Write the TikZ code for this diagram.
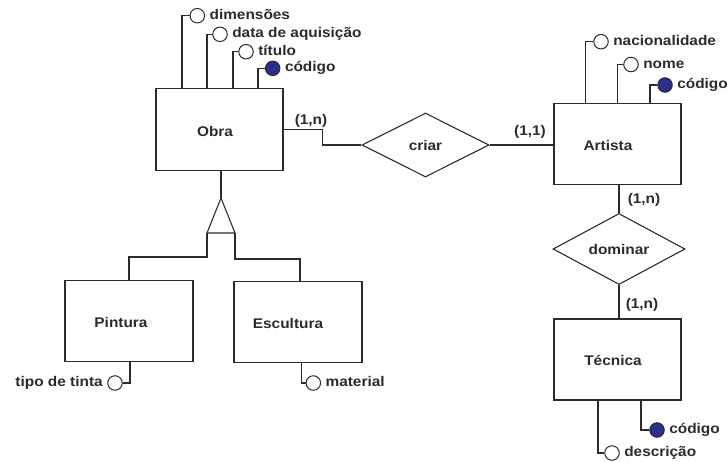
\documentclass[tikz,border=0pt]{standalone}
\usepackage{fontspec}
\setmainfont{Liberation Sans}[FakeStretch=1.1]
\usetikzlibrary{shapes.geometric,calc}
\definecolor{ink}{HTML}{2B2B2B}
\definecolor{keyblue}{HTML}{2A2F8F}
\begin{document}
\begin{tikzpicture}[x=1pt,y=-1pt,
  line width=1.1pt, draw=ink, text=ink,
  font=\fontsize{14}{16}\selectfont\bfseries,
  entity/.style={draw=ink, rectangle, inner sep=0pt, minimum width=127pt, minimum height=81pt},
  rel/.style={draw=ink, diamond, inner sep=0pt},
  attr/.style={draw=ink, circle, fill=white, inner sep=0pt, minimum size=14.5pt, line width=1pt},
  keyattr/.style={attr, fill=keyblue},
  lbl/.style={inner sep=0pt, text height=9.8pt, text depth=2.6pt, label distance=4pt},
  card/.style={inner sep=0pt},
  link/.style={draw=ink, line width=1.1pt}]
\useasboundingbox (0,0) rectangle (728,461);

% entities
\node[entity, minimum height=82pt, label={[xshift=-4.5pt,yshift=-2pt]center:Obra}] (obra) at (219.5,129.2) {};
\node[entity, label={[xshift=-9.5pt,yshift=-2pt]center:Artista}] (artista) at (617.5,143.7) {};
\node[entity, label={[xshift=-4.5pt,yshift=-0.5pt]center:Técnica}] (tecnica) at (617.5,359.5) {};
\node[entity, minimum width=128pt, label={[xshift=-8pt,yshift=-1.5pt]center:Pintura}] (pintura) at (129,321.2) {};
\node[entity, minimum width=128pt, label={[xshift=-10pt,yshift=-0.7pt]center:Escultura}] (escultura) at (298,322.3) {};

% relationships
\node[rel, minimum width=127pt, minimum height=64pt] (criar) at (425.5,145) {criar};
\node[rel, minimum width=132pt, minimum height=65pt] (dominar) at (619,249) {dominar};

% relationship links
\draw[link] (obra.east) -- ++(39,0) |- (criar.west);
\draw[link] (criar.east) -- (criar.east -| artista.west);
\draw[link] (dominar.north) -- (dominar.north |- artista.south);
\draw[link] (dominar.south) -- (dominar.south |- tecnica.north);

% cardinalities
\node[card] (c1) at (311,121) {(1,n)};
\node[card] (c2) at (530,132) {(1,1)};
\node[card] (c3) at (644,200) {(1,n)};
\node[card] (c4) at (642,305) {(1,n)};

% generalization of Obra
\coordinate (isaT) at (221,198);
\coordinate (isaL) at (207,233);
\coordinate (isaR) at (235,233);
\draw[link] (isaT) -- (isaT |- obra.south);
\draw[link, line join=miter] (isaT) -- (isaL) -- (isaR) -- cycle;
\draw[link] (isaL) -- ++(0,24) -| (pintura.north);
\draw[link] (isaR) -- ++(0,26) -| ([xshift=2pt]escultura.north);

% attributes of Obra
\node[attr, label={[lbl]right:dimensões}] (oDim) at (197.3,15.7) {};
\node[attr, label={[lbl]right:data de aquisição}] (oData) at (220,34.3) {};
\node[attr, label={[lbl]right:título}] (oTit) at (246,51.7) {};
\node[keyattr, label={[lbl]right:código}] (oCod) at (272.7,68.3) {};
\draw[link] (oDim.west) -- ($(oDim.center)+(-15.3,0)$) coordinate (kDim) -- (kDim |- obra.north);
\draw[link] (oData.west) -- ($(oData.center)+(-13,0)$) coordinate (kData) -- (kData |- obra.north);
\draw[link] (oTit.west) -- ($(oTit.center)+(-13,0)$) coordinate (kTit) -- (kTit |- obra.north);
\draw[link] (oCod.west) -- ($(oCod.center)+(-14.7,0)$) coordinate (kCod) -- (kCod |- obra.north);

% attributes of Artista
\node[attr, label={[lbl]right:nacionalidade}] (aNac) at (601,41.7) {};
\node[attr, label={[lbl]right:nome}] (aNome) at (631,64.5) {};
\node[keyattr, label={[lbl]right:código}] (aCod) at (665,85) {};
\draw[link] (aNac.west) -- ($(aNac.center)+(-15.3,0)$) coordinate (kNac) -- (kNac |- artista.north);
\draw[link] (aNome.west) -- ($(aNome.center)+(-13.3,0)$) coordinate (kNome) -- (kNome |- artista.north);
\draw[link] (aCod.west) -- ($(aCod.center)+(-15,0)$) coordinate (kACod) -- (kACod |- artista.north);

% attributes of Técnica
\node[keyattr, label={[lbl]right:código}] (tCod) at (657,430) {};
\node[attr, label={[lbl]right:descrição}] (tDesc) at (612,453) {};
\draw[link] (tCod.west) -- ($(tCod.center)+(-16,0)$) coordinate (kTCod) -- (kTCod |- tecnica.south);
\draw[link] (tDesc.west) -- ($(tDesc.center)+(-14,0)$) coordinate (kDesc) -- (kDesc |- tecnica.south);

% attributes of Pintura and Escultura
\node[attr, label={[lbl]left:tipo de tinta}] (pTinta) at (115,383) {};
\node[attr, label={[lbl]right:material}] (eMat) at (313.3,383) {};
\draw[link] (pTinta.east) -- ($(pTinta.center)+(15,0)$) coordinate (kTinta) -- (kTinta |- pintura.south);
\draw[link] (eMat.west) -- ($(eMat.center)+(-11.6,0)$) coordinate (kMat) -- (kMat |- escultura.south);
\end{tikzpicture}
\end{document}
